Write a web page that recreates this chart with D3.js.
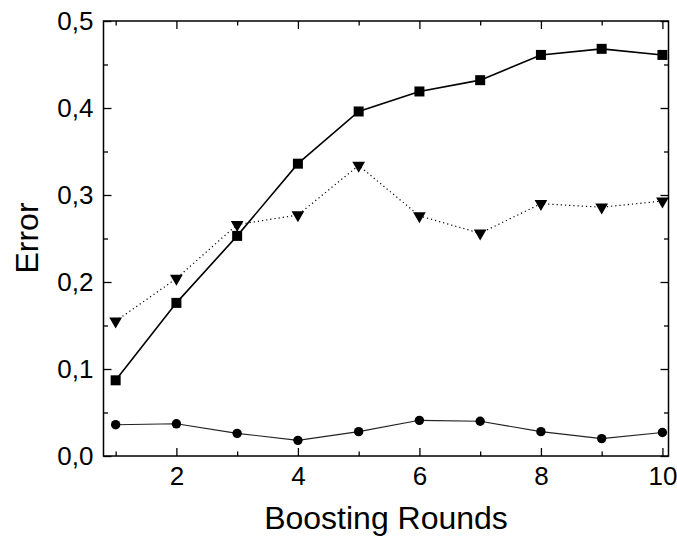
<!DOCTYPE html>
<html>
<head>
<meta charset="utf-8">
<script src="https://cdn.jsdelivr.net/npm/d3@7"></script>
<style>
  html, body { margin: 0; padding: 0; background: #fff; }
  svg { display: block; }
  text { font-family: "Liberation Sans", Arial, sans-serif; fill: #000; }
</style>
</head>
<body>
<svg id="chart" width="677" height="536"></svg>
<script>
const rounds = [1, 2, 3, 4, 5, 6, 7, 8, 9, 10];
const squareSeries = [0.087, 0.176, 0.253, 0.336, 0.396, 0.419, 0.432, 0.461, 0.468, 0.461];
const triangleSeries = [0.155, 0.204, 0.266, 0.277, 0.334, 0.276, 0.256, 0.290, 0.286, 0.293];
const circleSeries = [0.036, 0.037, 0.026, 0.018, 0.028, 0.041, 0.040, 0.028, 0.020, 0.027];
const xTickLabels = [2, 4, 6, 8, 10];
const yTickLabels = ["0,0", "0,1", "0,2", "0,3", "0,4", "0,5"];
const yTickValues = [0, 0.1, 0.2, 0.3, 0.4, 0.5];

const svg = d3.select("#chart");
const L = 103.5, R = 668.5, T = 21, B = 456;

const x = d3.scaleLinear().domain([0.8, 10.1]).range([L, R]);
const y = d3.scaleLinear().domain([0, 0.5]).range([B, T]);

// frame
svg.append("rect").attr("x", L).attr("y", T).attr("width", R - L).attr("height", B - T)
  .attr("fill", "none").attr("stroke", "#000").attr("stroke-width", 1.5);

const majorLen = 8, minorLen = 4.5;
const xMinor = d3.range(1, 11, 2);
const yMinor = d3.range(0.05, 0.5, 0.1);

// bottom axis
const xAxisB = d3.axisBottom(x).tickValues(xTickLabels).tickSizeInner(-majorLen).tickSizeOuter(0).tickPadding(11).tickFormat(d3.format("d"));
const gxb = svg.append("g").attr("transform", `translate(0,${B})`).call(xAxisB);
const xAxisBm = d3.axisBottom(x).tickValues(xMinor).tickSizeInner(-minorLen).tickSizeOuter(0).tickFormat("");
const gxbm = svg.append("g").attr("transform", `translate(0,${B})`).call(xAxisBm);
// top axis
const gxt = svg.append("g").attr("transform", `translate(0,${T})`).call(d3.axisTop(x).tickValues(xTickLabels).tickSizeInner(-majorLen).tickSizeOuter(0).tickFormat(""));
const gxtm = svg.append("g").attr("transform", `translate(0,${T})`).call(d3.axisTop(x).tickValues(xMinor).tickSizeInner(-minorLen).tickSizeOuter(0).tickFormat(""));
// left axis
const gyl = svg.append("g").attr("transform", `translate(${L},0)`).call(
  d3.axisLeft(y).tickValues(yTickValues).tickSizeInner(-majorLen).tickSizeOuter(0).tickPadding(10).tickFormat((d, i) => yTickLabels[i]));
const gylm = svg.append("g").attr("transform", `translate(${L},0)`).call(d3.axisLeft(y).tickValues(yMinor).tickSizeInner(-minorLen).tickSizeOuter(0).tickFormat(""));
// right axis
const gyr = svg.append("g").attr("transform", `translate(${R},0)`).call(d3.axisRight(y).tickValues(yTickValues).tickSizeInner(-majorLen).tickSizeOuter(0).tickFormat(""));
const gyrm = svg.append("g").attr("transform", `translate(${R},0)`).call(d3.axisRight(y).tickValues(yMinor).tickSizeInner(-minorLen).tickSizeOuter(0).tickFormat(""));

[gxb, gxbm, gxt, gxtm, gyl, gylm, gyr, gyrm].forEach(g => {
  g.select(".domain").remove();
  g.selectAll(".tick line").attr("stroke", "#000").attr("stroke-width", 1.3);
  g.selectAll(".tick text").style("font-family", "'Liberation Sans', Arial, sans-serif").style("font-size", "26px").attr("fill", "#000");
});

// axis titles
svg.append("text").attr("x", 386).attr("y", 529).attr("text-anchor", "middle")
  .style("font-size", "32px").text("Boosting Rounds");
svg.append("text").attr("transform", `translate(38,238) rotate(-90)`).attr("text-anchor", "middle")
  .style("font-size", "32px").text("Error");

const line = d3.line().x((d, i) => x(rounds[i])).y(d => y(d));

// circles series
svg.append("path").datum(circleSeries).attr("d", line).attr("fill", "none")
  .attr("stroke", "#222").attr("stroke-width", 1.1);
svg.append("g").selectAll("circle").data(circleSeries).join("circle")
  .attr("cx", (d, i) => x(rounds[i])).attr("cy", d => y(d)).attr("r", 4.7).attr("fill", "#000");

// triangles series (dotted)
svg.append("path").datum(triangleSeries).attr("d", line).attr("fill", "none")
  .attr("stroke", "#000").attr("stroke-width", 1.2).attr("stroke-dasharray", "1.2,3");
const triSym = d3.symbol().type(d3.symbolTriangle).size(70);
svg.append("g").selectAll("path").data(triangleSeries).join("path")
  .attr("d", triSym)
  .attr("transform", (d, i) => `translate(${x(rounds[i])},${y(d)}) rotate(180)`)
  .attr("fill", "#000");

// squares series
svg.append("path").datum(squareSeries).attr("d", line).attr("fill", "none")
  .attr("stroke", "#000").attr("stroke-width", 1.6);
svg.append("g").selectAll("rect").data(squareSeries).join("rect")
  .attr("x", (d, i) => x(rounds[i]) - 5).attr("y", d => y(d) - 5)
  .attr("width", 10).attr("height", 10).attr("fill", "#000");
</script>
</body>
</html>
